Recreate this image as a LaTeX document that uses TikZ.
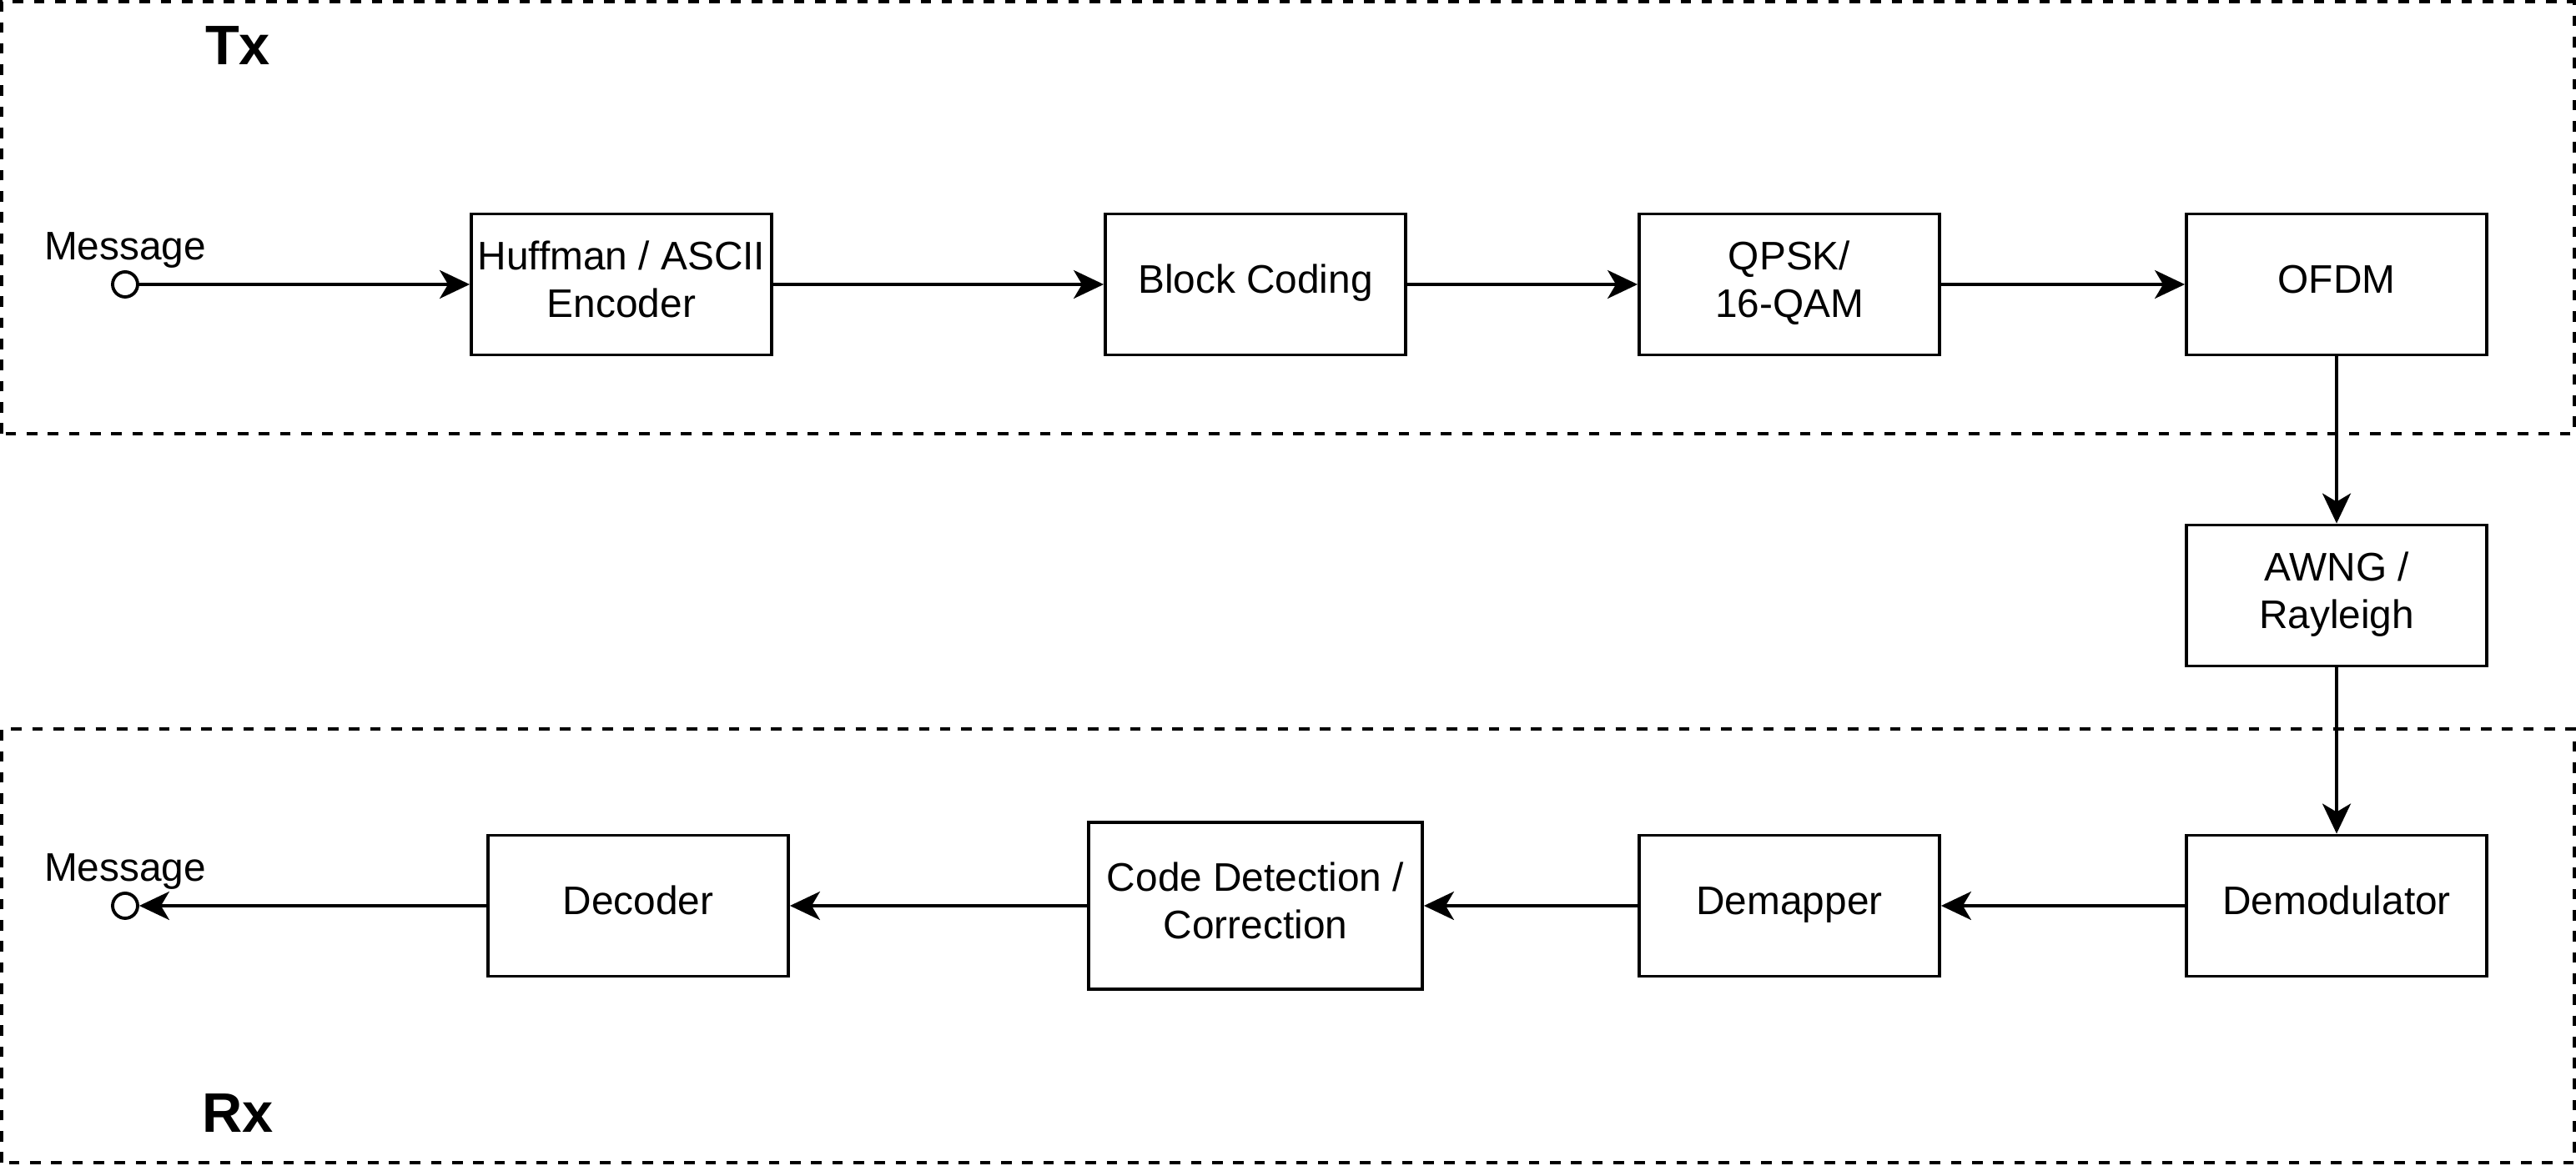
\documentclass[tikz,border=0pt]{standalone}
\usepackage{fontspec}
\setmainfont{Liberation Sans}
\usetikzlibrary{arrows.meta}
\usetikzlibrary{positioning}

\begin{document}
\begin{tikzpicture}[>={Stealth[length=3.6mm, width=3.4mm, inset=1mm]},
font=\fontsize{13.6}{16.3}\selectfont,
block/.style={draw, line width=1.1pt, minimum width=3.6cm, minimum height=1.69cm, align=center, inner sep=0, text height=.36cm, text depth=.14cm},
twoline/.style={text height=.95cm, text depth=.15cm},
port/.style={draw, line width=1.1pt, circle, minimum size=.3cm, inner sep=0},
flow/.style={->, line width=1.1pt},
region/.style={draw, line width=1.1pt, dash pattern=on 3.6pt off 3.6pt},
title/.style={font=\fontsize{19}{22}\selectfont\bfseries},
]
\useasboundingbox (0,0) rectangle (30.88,14.04);

%%%%%%%%%%%%%%%%%%%%%%%% TX / RX %%%%%%%%%%%%%%%%%%%%%%%%%%%
\draw[region] (0.02,8.84) rectangle (30.86,14.02);
\draw[region] (0.02,0.10) rectangle (30.86,5.30);
\node[title] (Tx) at (2.85,13.49) {Tx};
\node[title] (Rx) at (2.85,0.69) {Rx};

%%%%%%%%% TRANSMITTER %%%%%%%%%%%%%
\node[port] (MsgIn) at (1.50,10.63) {};
\node[above=-0.1cm of MsgIn] (MsgInLabel) {Message};
\node[block, twoline] (Huffman) at (7.45,10.63) {Huffman / ASCII\\Encoder};
\node[block] (BlockCoding) at (15.05,10.63) {Block Coding};
\node[block, twoline] (QPSK) at (21.45,10.63) {QPSK/\\16-QAM};
\node[block] (OFDM) at (28.01,10.63) {OFDM};

%%%%%%%%% CHANNEL %%%%%%%%%%%%%
\node[block, twoline] (Channel) at (28.01,6.90) {AWNG /\\Rayleigh};

%%%%%%%%% RECEIVER %%%%%%%%%%%%%
\node[block] (Demod) at (28.01,3.18) {Demodulator};
\node[block] (Demapper) at (21.45,3.18) {Demapper};
\node[block, twoline, minimum width=4.0cm, minimum height=2.0cm] (CodeDet) at (15.05,3.18) {Code Detection /\\Correction};
\node[block] (Decoder) at (7.65,3.18) {Decoder};
\node[port] (MsgOut) at (1.50,3.18) {};
\node[above=-0.1cm of MsgOut] (MsgOutLabel) {Message};

%%%%%%%%% CONNECTIONS %%%%%%%%%%%%%
\draw[flow] (MsgIn)--(Huffman);
\draw[flow] (Huffman)--(BlockCoding);
\draw[flow] (BlockCoding)--(QPSK);
\draw[flow] (QPSK)--(OFDM);
\draw[flow] (OFDM)--(Channel);
\draw[flow] (Channel)--(Demod);
\draw[flow] (Demod)--(Demapper);
\draw[flow] (Demapper)--(CodeDet);
\draw[flow] (CodeDet)--(Decoder);
\draw[flow] (Decoder)--(MsgOut);
\end{tikzpicture}
\end{document}
